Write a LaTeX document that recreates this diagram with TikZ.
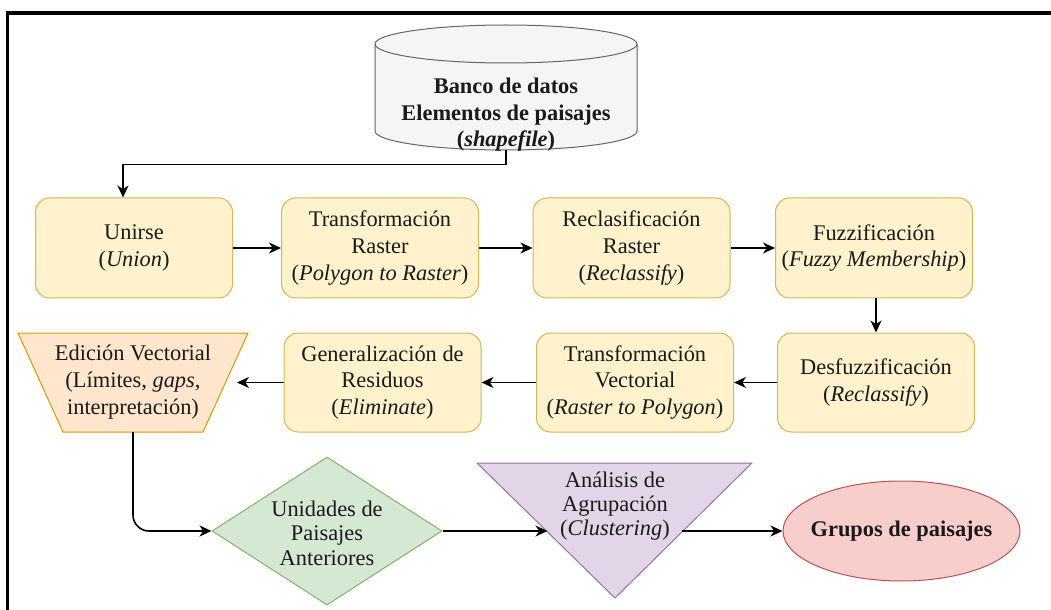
\documentclass[tikz,border=0pt]{standalone}
\usepackage{fontspec}
\setmainfont{Liberation Serif}
\usetikzlibrary{arrows.meta,shapes.geometric,calc}
\definecolor{ybox}{HTML}{FFF2CC}\definecolor{yline}{HTML}{D6B656}
\definecolor{obox}{HTML}{FFE6CC}\definecolor{oline}{HTML}{D79B00}
\definecolor{gbox}{HTML}{D5E8D4}\definecolor{gline}{HTML}{82B366}
\definecolor{pbox}{HTML}{E1D5E7}\definecolor{pline}{HTML}{9673A6}
\definecolor{rbox}{HTML}{F8CECC}\definecolor{rline}{HTML}{B85450}
\definecolor{cbox}{HTML}{F5F5F5}\definecolor{cline}{HTML}{666666}
\definecolor{tcol}{HTML}{1A1A1A}
\begin{document}
\begin{tikzpicture}[x=0.5pt,y=-0.5pt,
  txt/.style={font=\fontsize{11.2pt}{13.3pt}\selectfont, align=center, inner sep=0pt, text=tcol},
  tighttxt/.style={txt, font=\fontsize{11.2pt}{12.2pt}\selectfont},
  procbox/.style={txt, draw=yline, fill=ybox, line width=0.5pt, rounded corners=7pt, minimum width=98.5pt, minimum height=50pt},
  arr/.style={-{Stealth[length=6pt,width=5.5pt,inset=1.8pt]}, line width=0.8pt, black},
  shapeline/.style={line width=0.5pt},
]
\useasboundingbox (0,0) rectangle (1051,610);
\draw[line width=1.6pt] (7.5,610) -- (7.5,13) -- (1051,13);

% database cylinder
\draw[shapeline, draw=cline, fill=cbox] (375,44) -- (375,131)
  arc[start angle=180,end angle=360,x radius=65.5pt,y radius=9.5pt] -- (637,44)
  arc[start angle=0,end angle=180,x radius=65.5pt,y radius=9.5pt] -- cycle;
\draw[shapeline, draw=cline] (375,44) arc[start angle=180,end angle=360,x radius=65.5pt,y radius=9.5pt];
\node[minimum width=131pt, minimum height=62.5pt, inner sep=0pt] (cyl) at (506,87.5) {};
\node[txt, font=\fontsize{11.2pt}{13.3pt}\selectfont\bfseries] (cyltxt) at (506,115)
  {Banco de datos\\Elementos de paisajes\\(\textit{shapefile})};

% top row
\node[procbox] (b1) at (134,248) {Unirse\\(\textit{Union})};
\node[procbox] (b2) at (380,248) {Transformación\\Raster\\(\textit{Polygon to Raster})};
\node[procbox] (b3) at (631.5,248) {Reclasificación\\Raster\\(\textit{Reclassify})};
\node[procbox] (b4) at (874,248) {Fuzzificación\\(\textit{Fuzzy Membership})};

% second row
\node[procbox, minimum height=49.5pt] (b5) at (876,382.5) {Desfuzzificación\\(\textit{Reclassify})};
\node[procbox, minimum height=49.5pt] (b6) at (635,382.5) {Transformación\\Vectorial\\(\textit{Raster to Polygon})};
\node[procbox, minimum height=49.5pt] (b7) at (382.5,382.5) {Generalización de\\Residuos\\(\textit{Eliminate})};

% trapezoid
\draw[shapeline, draw=oline, fill=obox] (18,333) -- (248,333) -- (203,432) -- (63,432) -- cycle;
\node[txt] (trap) at (133,382) {Edición Vectorial\\(Límites, \textit{gaps},\\interpretación)};
\coordinate (trapS) at (133,432);
\coordinate (trapE) at (237,382.5);

% diamond
\node[diamond, shapeline, draw=gline, fill=gbox, minimum width=115pt, minimum height=74pt, inner sep=0pt] (dia) at (327,531) {};
\node[tighttxt] (diatxt) at (327,533) {Unidades de\\Paisajes\\Anteriores};

% triangle
\draw[shapeline, draw=pline, fill=pbox] (477,463) -- (752,463) -- (615,598) -- cycle;
\node[tighttxt] (tri) at (615,506) {Análisis de\\Agrupación\\(\textit{Clustering})};
\coordinate (triW) at (547.5,531);
\coordinate (triE) at (682,531);

% ellipse
\node[ellipse, shapeline, draw=rline, fill=rbox, minimum width=118.5pt, minimum height=50pt, inner sep=0pt,
  font=\fontsize{11.2pt}{13.3pt}\selectfont\bfseries, text=tcol] (ell) at (901.5,531) {\makebox[0pt]{Grupos de paisajes}};

% connectors
\draw[arr] (cyl.south) -- ++(0,14) -| ($(b1.north)+(-11,0)$);
\draw[arr] (b1) -- (b2);
\draw[arr] (b2) -- (b3);
\draw[arr] (b3) -- (b4);
\draw[arr] (b5.north |- b4.south) -- (b5.north);
\draw[arr] (b5) -- (b6);
\draw[arr] (b6) -- (b7);
\draw[arr] (b7.west) -- (trapE);
\draw[arr, rounded corners=8pt] (trapS) |- (dia.west);
\draw[arr] (dia.east) -- (triW);
\draw[arr] (triE) -- (ell.west);
\end{tikzpicture}
\end{document}
